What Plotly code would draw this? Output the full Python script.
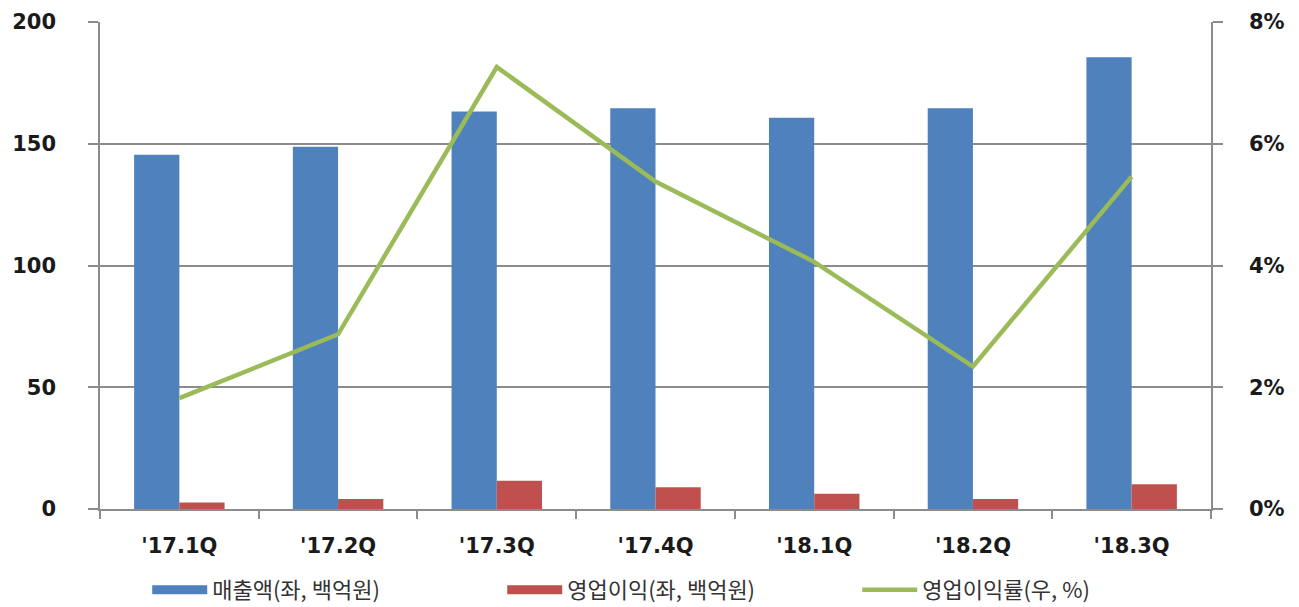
import plotly.graph_objects as go

categories = ["'17.1Q", "'17.2Q", "'17.3Q", "'17.4Q", "'18.1Q", "'18.2Q", "'18.3Q"]
sales = [145.5, 148.8, 163.2, 164.6, 160.7, 164.6, 185.5]
op_profit = [2.7, 4.1, 11.6, 8.9, 6.3, 4.1, 10.2]
op_margin = [1.82, 2.87, 7.26, 5.38, 4.06, 2.34, 5.46]

names = ["매출액(좌, 백억원)", "영업이익(좌, 백억원)", "영업이익률(우, %)"]
left_ticks = [0, 50, 100, 150, 200]
right_ticks = [0, 2, 4, 6, 8]
right_labels = [f"{v}%" for v in right_ticks]

BLUE = "#4F81BD"
RED = "#C0504D"
GREEN = "#9BBB59"
GRID = "#8C8C8C"

fig = go.Figure()
fig.add_trace(go.Bar(x=categories, y=sales, marker=dict(color=BLUE, line=dict(width=0)),
                     name=names[0], showlegend=False))
fig.add_trace(go.Bar(x=categories, y=op_profit, marker=dict(color=RED, line=dict(width=0)),
                     name=names[1], showlegend=False))
fig.add_trace(go.Scatter(x=categories, y=op_margin, mode="lines", yaxis="y2",
                         line=dict(color=GREEN, width=4.5), name=names[2], showlegend=False))

# legend entries (wide rectangle-like symbols)
fig.add_trace(go.Scatter(x=[None], y=[None], mode="lines", line=dict(color=BLUE, width=9), name=names[0]))
fig.add_trace(go.Scatter(x=[None], y=[None], mode="lines", line=dict(color=RED, width=9), name=names[1]))
fig.add_trace(go.Scatter(x=[None], y=[None], mode="lines", line=dict(color=GREEN, width=4.5), name=names[2]))

tickfont = dict(family="DejaVu Sans", size=21, color="#1a1a1a", weight="bold")

fig.update_layout(
    width=1299, height=607,
    margin=dict(l=100, r=88, t=22, b=98, autoexpand=False),
    paper_bgcolor="white", plot_bgcolor="white",
    barmode="group", bargap=0.43, bargroupgap=0,
    showlegend=True,
    legend=dict(orientation="h", x=0.0425, xanchor="left", y=-0.166, yanchor="middle",
                font=dict(family="Noto Sans CJK KR", size=22, color="#333333"),
                itemwidth=55, entrywidth=285, entrywidthmode="pixels",
                traceorder="normal", bgcolor="rgba(0,0,0,0)"),
    xaxis=dict(type="category", showline=True, linecolor=GRID, linewidth=1.5,
               ticks="outside", tickson="boundaries", ticklen=8, tickcolor=GRID, tickwidth=1.5,
               tickfont=tickfont, ticklabelstandoff=17, showgrid=False, zeroline=False),
    yaxis=dict(range=[0, 200], tickvals=left_ticks, showline=True, linecolor=GRID, linewidth=1.5,
               ticks="outside", ticklen=10, tickcolor=GRID, tickwidth=1.5,
               showgrid=True, gridcolor=GRID, gridwidth=1.5, zeroline=False,
               tickfont=tickfont, ticklabelstandoff=28),
    yaxis2=dict(range=[0, 8], tickvals=right_ticks, ticktext=right_labels, overlaying="y", side="right",
                showline=True, linecolor=GRID, linewidth=1.5,
                ticks="outside", ticklen=10, tickcolor=GRID, tickwidth=1.5,
                showgrid=False, zeroline=False, tickfont=tickfont, ticklabelstandoff=22),
)

fig.write_html("out.html")
